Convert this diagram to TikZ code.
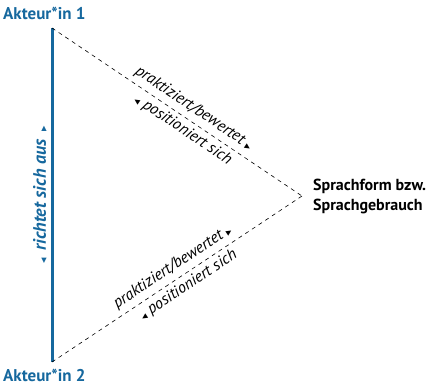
\documentclass[tikz,border=0pt]{standalone}
\usepackage{fontspec}
\setmainfont{PT Sans}
\newfontfamily\symfont{DejaVu Sans}
\definecolor{akteurblau}{RGB}{22,104,158}
\newcommand{\rtri}{{\symfont\fontsize{7}{7}\selectfont ▶}}
\newcommand{\ltri}{{\symfont\fontsize{7}{7}\selectfont ◀}}

\begin{document}
\begin{tikzpicture}[x=1pt,y=-1pt]
	\tikzstyle{every node}+=[inner sep=0pt]
	\tikzstyle{akteur}=[font=\bfseries\fontsize{17}{19}\selectfont, text=akteurblau]
	\tikzstyle{rel}=[font=\itshape\fontsize{16}{18}\selectfont]
	\tikzstyle{beziehung}=[black, dash pattern=on 4pt off 4pt, line width=0.6pt]
	\useasboundingbox (0,0) rectangle (430,385);
	% Ecken des Dreiecks
	\coordinate (e1) at (52,28);
	\coordinate (e2) at (52,362);
	\coordinate (sp) at (302,196);
	\node[akteur, anchor=base west] (a1) at (3,20) {Akteur*in 1};
	\node[akteur, anchor=base west] (a2) at (3,381) {Akteur*in 2};
	\node[anchor=west, align=left, font=\bfseries\fontsize{16}{20}\selectfont] (form) at (313,196) {Sprachform bzw.\\Sprachgebrauch};
	% Linien
	\draw [akteurblau, line width=3pt] (e1) -- (e2);
	\draw [beziehung] (e1) -- (sp);
	\draw [beziehung] (e2) -- (sp);
	% Beschriftungen
	\path (e2) -- (e1) node[font=\bfseries\itshape\fontsize{18}{20}\selectfont, text=akteurblau, sloped, above=5pt, midway] (ausr) {\ltri\,\ richtet sich aus\,\ \rtri};
	\path (e1) -- (sp)
		node[rel, sloped, above=5pt, pos=0.54] (pb1) {praktiziert/bewertet \rtri}
		node[rel, sloped, below=4pt, pos=0.55] (ps1) {\ltri\ positioniert sich};
	\path (e2) -- (sp)
		node[rel, sloped, above=5pt, pos=0.51] (pb2) {praktiziert/bewertet \rtri}
		node[rel, sloped, below=4pt, pos=0.52] (ps2) {\ltri\ positioniert sich};
\end{tikzpicture}
\end{document}
